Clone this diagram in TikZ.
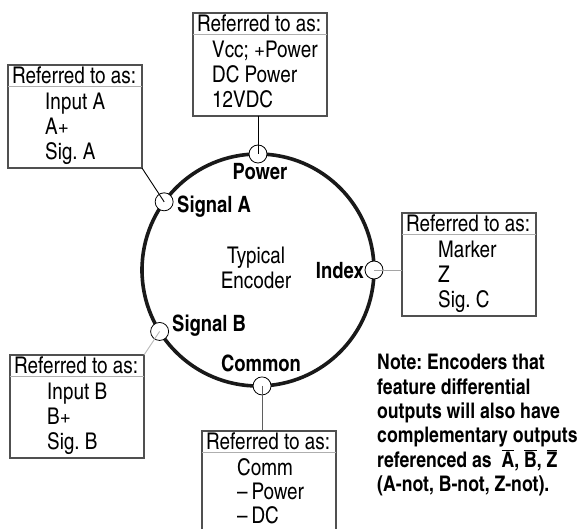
\documentclass[tikz,border=0pt]{standalone}
\usepackage{fontspec}
\setmainfont{texgyreheroscn}[Extension=.otf,UprightFont=*-regular,BoldFont=*-bold]
\usetikzlibrary{positioning,calc}
\definecolor{boxline}{RGB}{80,80,80}
\definecolor{rulegray}{RGB}{175,175,175}
\definecolor{wiregray}{RGB}{165,165,165}
\definecolor{wiredark}{RGB}{95,95,95}
\frenchspacing

\begin{document}
\begin{tikzpicture}[x=1pt,y=-1pt,
  refbox/.style={draw=boxline,line width=1.2pt,anchor=north west,minimum width=134pt,minimum height=103pt,inner sep=0pt,outer sep=0pt},
  hdr/.style={anchor=base west,inner sep=0pt,font=\fontsize{23}{25}\selectfont},
  itm/.style={anchor=base west,inner sep=0pt,font=\fontsize{23}{25}\selectfont},
  encoder/.style={circle,draw=black!90,line width=3.6pt,minimum size=232pt,inner sep=0pt,outer sep=0pt},
  term/.style={circle,draw,fill=white,line width=0.8pt,minimum size=18pt,inner sep=0pt},
  lbl/.style={inner sep=0pt,font=\bfseries\fontsize{22.5}{24}\selectfont},
  wire/.style={line width=0.9pt}]
  \useasboundingbox (0,0) rectangle (582,529);
  \clip (0,0) rectangle (582,529);

  % encoder body and terminals
  \node[encoder] (enc) at (258,270) {};
  \node[align=center,inner sep=0pt,font=\fontsize{23}{25}\selectfont] (title) at (256,268) {Typical\\Encoder};
  \node[term] (pwrt) at (enc.90) {};
  \node[term] (sigat) at (enc.144) {};
  \node[term] (idxt) at (enc.0) {};
  \node[term] (sigbt) at (enc.212) {};
  \node[term] (commt) at (enc.272) {};
  \node[lbl,anchor=base] (pwrlbl) at (260,180) {Power};
  \node[lbl,anchor=base west] (sigalbl) at (177,213) {Signal A};
  \node[lbl,anchor=base east] (idxlbl) at (364,279) {Index};
  \node[lbl,anchor=base west] (sigblbl) at (172,332) {Signal B};
  \node[lbl,anchor=base] (commlbl) at (261,372) {Common};

  % name boxes
  \node[refbox] (pwrbox) at (193,13) {};
  \node[refbox] (sigabox) at (8,65) {};
  \node[refbox] (idxbox) at (402,213) {};
  \node[refbox] (sigbbox) at (10,355) {};
  \node[refbox] (commbox) at (202,431) {};
  \foreach \b in {pwrbox,sigabox,idxbox,sigbbox,commbox} {
    \node[hdr] (\b hdr) at ($(\b.north west)+(4pt,-19pt)$) {Referred to as:};
    \draw[rulegray,line width=0.8pt] ($(\b.north west)+(0,-21.5pt)$) -- ($(\b.north east)+(0,-21.5pt)$);
  }
  \foreach \t [count=\i] in {Vcc; +Power,DC Power,12VDC}
    \node[itm] (pwr\i) at ($(pwrbox.north west)+(19pt,{-20pt-25pt*\i})$) {\t};
  \foreach \t [count=\i] in {Input A,A+,Sig. A}
    \node[itm] (siga\i) at ($(sigabox.north west)+(37pt,{-20pt-25pt*\i})$) {\t};
  \foreach \t [count=\i] in {Marker,Z,Sig. C}
    \node[itm] (idx\i) at ($(idxbox.north west)+(36pt,{-20pt-25pt*\i})$) {\t};
  \foreach \t [count=\i] in {Input B,B+,Sig. B}
    \node[itm] (sigb\i) at ($(sigbbox.north west)+(37pt,{-20pt-25pt*\i})$) {\t};
  \foreach \t [count=\i] in {Comm,{--\,}Power,{--\,}DC}
    \node[itm] (comm\i) at ($(commbox.north west)+(35pt,{-21pt-24pt*\i})$) {\t};

  \draw[wire] (pwrt.center |- pwrbox.south) -- (pwrt.center);
  \draw[wire] (sigabox.south east) -- (sigat.center);
  \draw[wire,wiregray] (idxt.center) -- (idxt.center -| idxbox.west);
  \draw[wire,wiregray!80] (sigbt.center) -- (sigbbox.north east);
  \draw[wire,wiredark] (commt.center) -- (commt.center |- commbox.north);

  % note
  \node[anchor=north west,align=left,inner sep=0pt,font=\bfseries\fontsize{21.5}{24.4}\selectfont] (note) at (377,354)
    {Note: Encoders that\\feature differential\\outputs will also have\\complementary outputs\\referenced as\ \ $\overline{\mbox{A}}$, $\overline{\mbox{B}}$, $\overline{\mbox{Z}}$\\(A-not, B-not, Z-not).};
\end{tikzpicture}
\end{document}
